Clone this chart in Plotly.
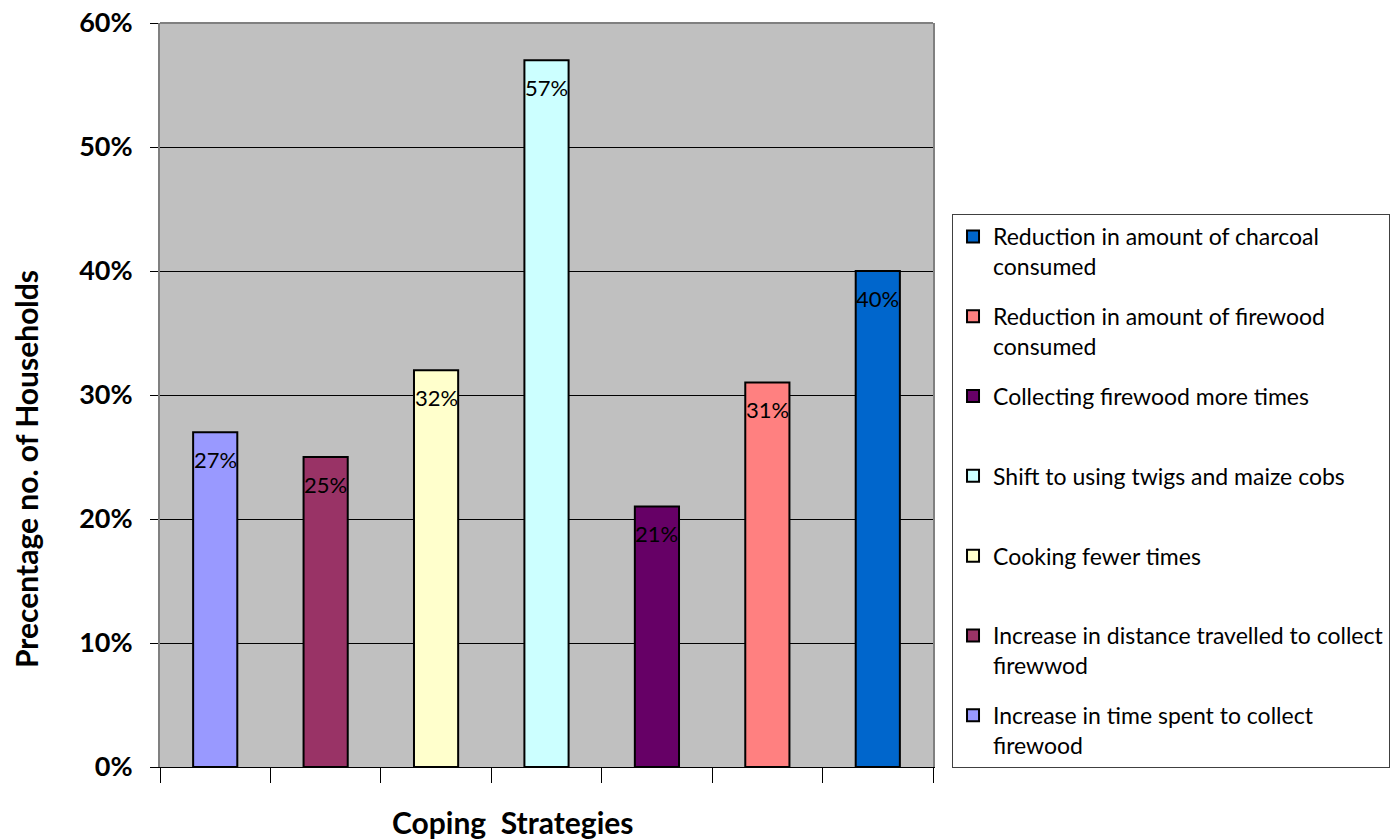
import plotly.graph_objects as go

# Coping strategies (left-to-right order on the x axis)
strategies = [
    "Increase in time spent to collect firewood",
    "Increase in distance travelled to collect firewwod",
    "Cooking fewer times",
    "Shift to using twigs and maize cobs",
    "Collecting firewood more times",
    "Reduction in amount of firewood consumed",
    "Reduction in amount of charcoal consumed",
]
# Legend labels (wrapped like the legend box)
legend_labels = [
    "Increase in time spent to collect<br>firewood",
    "Increase in distance travelled to collect<br>firewwod",
    "Cooking fewer times<br> ",
    "Shift to using twigs and maize cobs<br> ",
    "Collecting firewood more times<br> ",
    "Reduction in amount of firewood<br>consumed",
    "Reduction in amount of charcoal<br>consumed",
]
households_pct = [27, 25, 32, 57, 21, 31, 40]
bar_colors = ["#9999FF", "#993366", "#FFFFCC", "#CCFFFF", "#660066", "#FF8080", "#0066CC"]

y_ticks = [0, 10, 20, 30, 40, 50, 60]

FONT = "Lato"

fig = go.Figure()
n = len(strategies)
for i, (name, lab, val, col) in enumerate(zip(strategies, legend_labels, households_pct, bar_colors)):
    fig.add_trace(go.Bar(
        x=[name], y=[val], name=lab, legendgroup=name,
        legendrank=n - i,
        marker=dict(color=col, line=dict(color="black", width=2)),
        hoverinfo="skip",
    ))
    # value label just inside the top of each bar
    fig.add_annotation(
        x=name, y=val, text=f"{val}%", showarrow=False,
        yanchor="middle", yshift=-27,
        font=dict(family=FONT, size=22, color="black"),
    )

fig.update_layout(
    width=1394, height=840,
    margin=dict(l=160, r=461, t=23, b=73, autoexpand=False),
    paper_bgcolor="white",
    plot_bgcolor="#C0C0C0",
    barmode="overlay",
    bargap=0.6,
    showlegend=True,
    legend=dict(
        x=1.0246, xanchor="left", y=0.7433, yanchor="top",
        bordercolor="#404040", borderwidth=1, bgcolor="white",
        font=dict(family=FONT, size=23, color="black"),
        traceorder="grouped", tracegroupgap=17, valign="top",
        itemsizing="constant",
    ),
    font=dict(family=FONT, color="black"),
)

fig.update_xaxes(
    type="category",
    categoryorder="array", categoryarray=strategies,
    showticklabels=False, automargin=False,
    ticks="outside", tickson="boundaries", ticklen=15, tickcolor="black", tickwidth=1,
    showline=True, linecolor="black", linewidth=1,
    showgrid=False,
)
fig.update_yaxes(
    range=[0, 60], automargin=False,
    tickvals=y_ticks, ticktext=[f"{v}%" for v in y_ticks],
    tickfont=dict(family=FONT, size=27, color="black", weight="bold"),
    ticks="outside", ticklen=8, tickcolor="black", tickwidth=1,
    ticklabelstandoff=12,
    showline=True, linecolor="#808080", linewidth=2, mirror=True,
    showgrid=True, gridcolor="black", gridwidth=1,
    zeroline=False,
)

# top edge of plotting area
fig.add_shape(type="line", xref="paper", yref="paper", x0=0, x1=1, y0=1, y1=1,
              line=dict(color="#808080", width=2), layer="above")

# axis titles
fig.add_annotation(
    xref="paper", yref="paper", x=(512 - 160) / 773, y=-(822 - 767) / 744,
    text="Coping  Strategies", showarrow=False, xanchor="center", yanchor="middle",
    font=dict(family=FONT, size=30, color="black", weight="bold"),
)
fig.add_annotation(
    xref="paper", yref="paper", x=-(160 - 26) / 773, y=(767 - 469) / 744,
    text="Precentage no. of Households", showarrow=False, textangle=-90,
    xanchor="center", yanchor="middle",
    font=dict(family=FONT, size=30, color="black", weight="bold"),
)

fig.write_html("out.html")
